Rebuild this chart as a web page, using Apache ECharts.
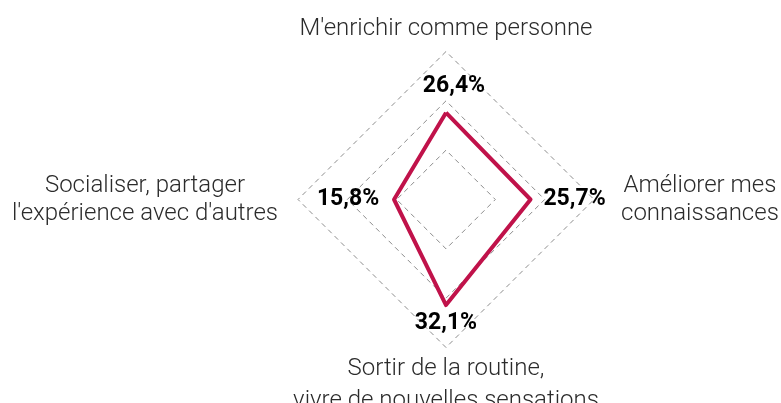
<!DOCTYPE html>
<html>
<head>
<meta charset="utf-8">
<script src="https://cdn.jsdelivr.net/npm/echarts@6/dist/echarts.min.js"></script>
<style>
  html, body { margin: 0; padding: 0; background: #fff; }
  #chart { width: 781px; height: 403px; }
</style>
</head>
<body>
<div id="chart"></div>
<script>
// indicators, clockwise from top
const indicatorNames = [
  "M'enrichir comme personne",
  "Socialiser, partager\nl'expérience avec d'autres",
  "Sortir de la routine,\nvivre de nouvelles sensations",
  "Améliorer mes\nconnaissances"
];
const values = [26.4, 15.8, 32.1, 25.7];
const maxValue = 45;

// per-axis styling keys for names and value labels
const nameKeys = ["top", "left", "bottom", "right"];

const fmt = v => v.toFixed(1).replace(".", ",") + "%";

const chart = echarts.init(document.getElementById("chart"));

const nameBase = { fontFamily: "Roboto", fontSize: 24, fontWeight: 300, color: "#2b2b2b", lineHeight: 28, align: "center" };
const valBase = { fontFamily: "Roboto", fontSize: 23, fontWeight: "bold", color: "#000" };

chart.setOption({
  animation: false,
  radar: {
    center: [446, 199.5],
    radius: 148,
    startAngle: 90,
    splitNumber: 3,
    shape: "polygon",
    indicator: indicatorNames.map(n => ({ name: n, max: maxValue, min: 0 })),
    axisName: {
      formatter: (name) => {
        const i = indicatorNames.indexOf(name);
        const k = nameKeys[i];
        return name.split("\n").map(l => "{" + k + "|" + l + "}").join("\n");
      },
      rich: {
        top: { ...nameBase, padding: [0, 0, 7, 0] },
        left: { ...nameBase, padding: [0, 15, 0, 0] },
        bottom: { ...nameBase, lineHeight: 32 },
        right: { ...nameBase, padding: [0, 0, 0, 22] }
      }
    },
    nameGap: 5,
    axisLine: { show: false },
    axisTick: { show: false },
    axisLabel: { show: false },
    splitArea: { show: false },
    splitLine: { lineStyle: { color: "#8c8c8c", type: [5, 4], width: 1 } }
  },
  series: [{
    type: "radar",
    symbol: "circle",
    symbolSize: 1,
    itemStyle: { color: "#C0124A" },
    lineStyle: { color: "#C0124A", width: 4 },
    label: {
      show: true,
      position: "inside",
      formatter: (p) => {
        const k = nameKeys[p.dimensionIndex];
        return "{" + k + "|" + fmt(p.value) + "}";
      },
      rich: {
        top: { ...valBase, padding: [0, 0, 52, 16] },
        left: { ...valBase, padding: [0, 92, 0, 0] },
        bottom: { ...valBase, padding: [36, 0, 0, 0] },
        right: { ...valBase, padding: [0, 0, 0, 88] }
      }
    },
    data: [{ value: values, name: "Motivations" }]
  }]
});
</script>
</body>
</html>
